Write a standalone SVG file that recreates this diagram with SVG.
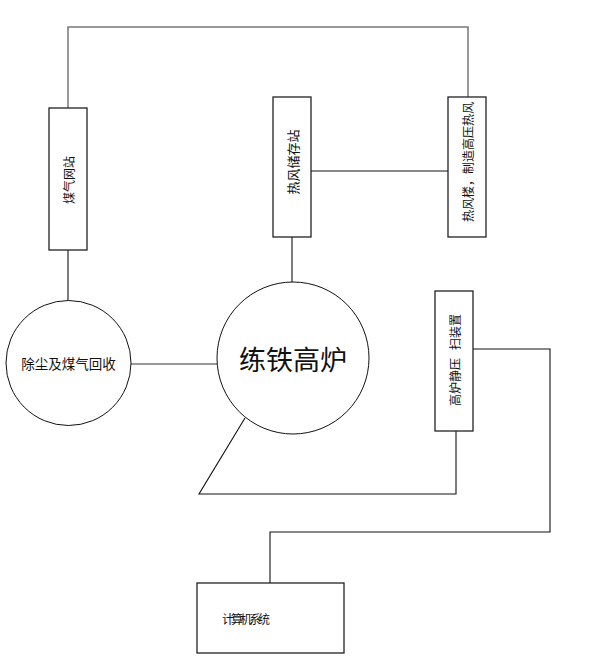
<svg xmlns="http://www.w3.org/2000/svg" width="608" height="664" viewBox="0 0 608 664">
<style>
.box{fill:#fff;stroke:#222;stroke-width:1.3}
.circ{fill:#fff;stroke:#111;stroke-width:1}
.t{font-family:"Noto Sans CJK SC","Noto Sans CJK JP",sans-serif;fill:#111;text-anchor:middle;dominant-baseline:central}
.g{fill:none;stroke:#777;stroke-width:1.5}
.k{fill:none;stroke:#111;stroke-width:1.1}
</style>
<rect width="608" height="664" fill="#fff"/>
<g id="connectors">
<polyline class="g" points="68,108 68,27 468,27 468,97"/>
<line class="k" x1="68" y1="250" x2="68" y2="301"/>
<line class="g" x1="131" y1="364" x2="217" y2="364"/>
<line class="k" x1="292" y1="237" x2="292" y2="283"/>
<line class="k" x1="311" y1="171" x2="448" y2="171"/>
<polyline class="k" points="245,418 199,494 456,494 456,431"/>
<polyline class="k" points="473,349 550,349 550,532 270,532 270,583"/>
</g>
<g id="gas-station">
<rect class="box" x="49" y="108" width="38" height="142"/>
<text class="t" font-size="12" transform="translate(68,180) rotate(-90)">煤气网站</text>
</g>
<g id="hot-air-storage">
<rect class="box" x="273" y="97" width="38" height="140"/>
<text class="t" font-size="13" transform="translate(292,162) rotate(-90)">热风储存站</text>
</g>
<g id="hot-air-building">
<rect class="box" x="448" y="97" width="38" height="140"/>
<text class="t" font-size="12" transform="translate(467,162) rotate(-90)">热风楼，制造高压热风</text>
</g>
<g id="static-pressure">
<rect class="box" x="435" y="291" width="38" height="140"/>
<text class="t" font-size="12" transform="translate(454,360) rotate(-90)" xml:space="preserve">高炉静压   扫装置</text>
</g>
<g id="dust-removal">
<circle class="circ" cx="68.5" cy="363" r="62.5"/>
<text class="t" font-size="13.5" x="68.5" y="363">除尘及煤气回收</text>
</g>
<g id="blast-furnace">
<circle class="circ" cx="293" cy="358" r="76"/>
<text class="t" font-size="27" x="293" y="358">练铁高炉</text>
</g>
<g id="computer">
<rect class="box" x="197" y="583" width="147" height="70"/>
<text class="t" font-size="12" x="246" y="618" textLength="48">计算机系统</text>
</g>
</svg>
